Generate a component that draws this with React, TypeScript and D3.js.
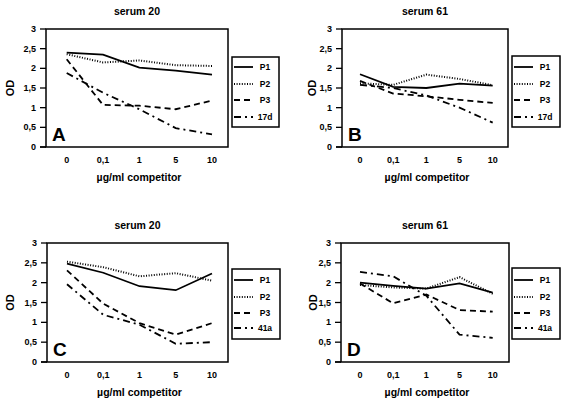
import React from "react";
import * as d3 from "d3";

const concentrations = ["0", "0,1", "1", "5", "10"];
const yTicks = [0, 0.5, 1, 1.5, 2, 2.5, 3];
const seriesNamesTop = ["P1", "P2", "P3", "17d"];
const seriesNamesBottom = ["P1", "P2", "P3", "41a"];

// Panel A: serum 20
const aP1 = [2.40, 2.35, 2.02, 1.94, 1.84];
const aP2 = [2.36, 2.15, 2.20, 2.08, 2.06];
const aP3 = [2.23, 1.07, 1.05, 0.96, 1.18];
const a17d = [1.88, 1.38, 0.96, 0.48, 0.32];

// Panel B: serum 61
const bP1 = [1.85, 1.53, 1.50, 1.61, 1.56];
const bP2 = [1.62, 1.58, 1.84, 1.73, 1.57];
const bP3 = [1.68, 1.36, 1.29, 1.20, 1.12];
const b17d = [1.58, 1.50, 1.31, 1.00, 0.62];

// Panel C: serum 20
const cP1 = [2.48, 2.25, 1.91, 1.81, 2.23];
const cP2 = [2.53, 2.39, 2.16, 2.24, 2.05];
const cP3 = [2.31, 1.47, 0.98, 0.69, 0.98];
const c41a = [1.96, 1.19, 0.94, 0.46, 0.50];

// Panel D: serum 61
const dP1 = [2.00, 1.92, 1.85, 1.98, 1.75];
const dP2 = [1.94, 1.88, 1.85, 2.14, 1.72];
const dP3 = [1.98, 1.48, 1.70, 1.31, 1.27];
const d41a = [2.27, 2.16, 1.67, 0.69, 0.61];

const styles = [
  { dash: "none", width: 1.8 },
  { dash: "1,1.6", width: 2 },
  { dash: "6,4", width: 1.8 },
  { dash: "7,4,2,4", width: 1.8 },
];

const FONT = "'Liberation Sans', Arial, sans-serif";

type PanelProps = {
  title: string;
  letter: string;
  names: string[];
  series: number[][];
  box: { l: number; r: number; t: number; b: number };
  px: [number, number];
  odX: number;
  legend: { x: number; y: number; w: number; h: number; ys: number[] };
};

function Panel({ title, letter, names, series, box, px, odX, legend }: PanelProps) {
  const x = d3.scalePoint<string>().domain(concentrations).range(px);
  const y = d3.scaleLinear().domain([0, 3]).range([box.b, box.t]);
  const line = d3
    .line<number>()
    .x((_, i) => x(concentrations[i]) as number)
    .y((d) => y(d));
  const cx = (box.l + box.r) / 2;
  return (
    <g fontFamily={FONT} fontWeight="bold" fill="#000">
      <text x={cx} y={box.t - 14} textAnchor="middle" fontSize={10.5}>
        {title}
      </text>
      {yTicks.map((t) => (
        <g key={t}>
          <line x1={box.l - 6} x2={box.l} y1={y(t)} y2={y(t)} stroke="#000" strokeWidth={1.3} />
          <text x={box.l - 10} y={y(t) + 3} textAnchor="end" fontSize={9}>
            {String(t).replace(".", ",")}
          </text>
        </g>
      ))}
      {concentrations.map((c) => (
        <text key={c} x={x(c)} y={box.b + 16} textAnchor="middle" fontSize={9}>
          {c}
        </text>
      ))}
      <text
        transform={`translate(${odX},${(box.t + box.b) / 2}) rotate(-90)`}
        textAnchor="middle"
        fontSize={11}
      >
        OD
      </text>
      <text x={cx + 2} y={box.b + 34} textAnchor="middle" fontSize={10.5}>
        µg/ml competitor
      </text>
      {series.map((s, i) => (
        <path
          key={i}
          d={line(s) || ""}
          fill="none"
          stroke="#000"
          strokeWidth={styles[i].width}
          strokeDasharray={styles[i].dash}
        />
      ))}
      <rect
        x={box.l}
        y={box.t}
        width={box.r - box.l}
        height={box.b - box.t}
        fill="none"
        stroke="#000"
        strokeWidth={1.5}
      />
      <line x1={box.l - 6} x2={box.l} y1={box.b} y2={box.b} stroke="#000" strokeWidth={1.5} />
      <text x={box.l + 6} y={box.b - 6} fontSize={19}>
        {letter}
      </text>
      <rect
        x={legend.x}
        y={legend.y}
        width={legend.w}
        height={legend.h}
        fill="#fff"
        stroke="#000"
        strokeWidth={1.5}
      />
      {names.map((n, i) => (
        <g key={n}>
          <line
            x1={legend.x + 2}
            x2={legend.x + 21}
            y1={legend.ys[i]}
            y2={legend.ys[i]}
            stroke="#000"
            strokeWidth={styles[i].width}
            strokeDasharray={styles[i].dash}
          />
          <text x={legend.x + 33} y={legend.ys[i] + 3} textAnchor="middle" fontSize={8.5}>
            {n}
          </text>
        </g>
      ))}
    </g>
  );
}

export default function App() {
  return (
    <svg
      width={564}
      height={403}
      style={{ position: "absolute", left: 0, top: 0, background: "#fff" }}
    >
      <rect width={564} height={403} fill="#fff" />
      <Panel
        title="serum 20"
        letter="A"
        names={seriesNamesTop}
        series={[aP1, aP2, aP3, a17d]}
        box={{ l: 46, r: 228, t: 29, b: 147 }}
        px={[66.7, 212]}
        odX={14}
        legend={{ x: 232, y: 57, w: 47, h: 70, ys: [67, 84, 100, 117] }}
      />
      <Panel
        title="serum 61"
        letter="B"
        names={seriesNamesTop}
        series={[bP1, bP2, bP3, b17d]}
        box={{ l: 342, r: 508, t: 29, b: 147 }}
        px={[360, 492.7]}
        odX={316}
        legend={{ x: 512, y: 56, w: 48, h: 71, ys: [67, 84, 100, 117] }}
      />
      <Panel
        title="serum 20"
        letter="C"
        names={seriesNamesBottom}
        series={[cP1, cP2, cP3, c41a]}
        box={{ l: 47, r: 228, t: 243, b: 362 }}
        px={[67, 212]}
        odX={14}
        legend={{ x: 232, y: 269, w: 48, h: 70, ys: [280, 297, 313, 328] }}
      />
      <Panel
        title="serum 61"
        letter="D"
        names={seriesNamesBottom}
        series={[dP1, dP2, dP3, d41a]}
        box={{ l: 341, r: 509, t: 243, b: 362 }}
        px={[360, 492.7]}
        odX={317}
        legend={{ x: 512, y: 268, w: 48, h: 71, ys: [280, 297, 313, 328] }}
      />
    </svg>
  );
}
